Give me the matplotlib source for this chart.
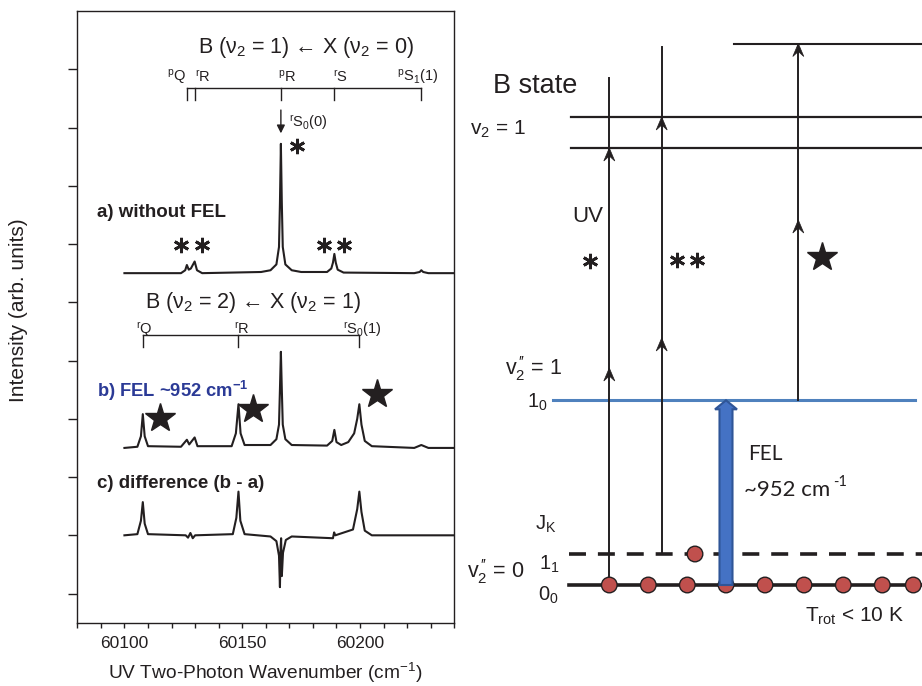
import matplotlib
matplotlib.use("Agg")
import matplotlib.pyplot as plt
from matplotlib.patches import Polygon, Circle, FancyArrow

plt.rcParams["font.family"] = ["Liberation Sans", "DejaVu Sans"]
plt.rcParams["mathtext.fontset"] = "custom"
plt.rcParams["mathtext.rm"] = "Liberation Sans"
plt.rcParams["mathtext.it"] = "Liberation Sans:italic"
plt.rcParams["mathtext.bf"] = "Liberation Sans:bold"

INK = "#231f20"
BLUE_TXT = "#2b3a96"
BLUE_LINE = "#4f81bd"
FEL_FILL = "#4472c4"
FEL_EDGE = "#2f5597"
RED_DOT = "#c0504d"

# ---- spectra (wavenumber, intensity above own baseline) ----
a_x = [60100, 60124, 60125.8, 60126.5, 60127.3, 60128.2, 60129.8, 60130.8, 60133,
       60158, 60162, 60164.5, 60165.6, 60166.0, 60166.4, 60166.8, 60167.2, 60168.3,
       60171, 60175, 60186, 60187.8, 60188.5, 60189.1, 60189.7, 60190.5, 60193,
       60223, 60225.3, 60226, 60226.8, 60229, 60240]
a_y = [0.0, 0.0, 0.05, 0.14, 0.06, 0.08, 0.20, 0.05, 0.0,
       0.02, 0.05, 0.15, 0.45, 1.2, 2.22, 1.2, 0.45, 0.15,
       0.05, 0.02, 0.02, 0.08, 0.18, 0.33, 0.18, 0.06, 0.01,
       0.0, 0.02, 0.05, 0.02, 0.0, 0.0]

b_x = [60100, 60105.5, 60107.0, 60107.8, 60108.6, 60110, 60124, 60126.5, 60127.5,
       60129.8, 60131, 60145.5, 60147.3, 60148.4, 60149.3, 60151, 60162, 60164.5,
       60165.6, 60166.0, 60166.4, 60166.8, 60167.2, 60168.3, 60171, 60186, 60188.2,
       60189.1, 60190, 60192, 60195, 60197.5, 60198.8, 60199.7, 60200.6, 60202,
       60205, 60223, 60226, 60229, 60240]
b_y = [0.0, 0.02, 0.2, 0.58, 0.2, 0.03, 0.02, 0.14, 0.06,
       0.18, 0.03, 0.03, 0.25, 0.75, 0.25, 0.05, 0.05, 0.15,
       0.4, 1.0, 1.65, 1.0, 0.4, 0.15, 0.05, 0.04, 0.12,
       0.31, 0.1, 0.05, 0.1, 0.25, 0.5, 0.75, 0.4, 0.12,
       0.03, 0.0, 0.05, 0.0, 0.0]

c_x = [60100, 60105.5, 60107.0, 60107.8, 60108.6, 60110, 60126, 60127, 60128,
       60129, 60130, 60146, 60147.5, 60148.4, 60149.2, 60151, 60162, 60164.5,
       60165.6, 60166.0, 60166.3, 60166.5, 60166.8, 60167.3, 60168.5, 60171,
       60188.5, 60189, 60189.5, 60197, 60198.8, 60199.7, 60200.6, 60202, 60205, 60240]
c_y = [0.0, 0.02, 0.25, 0.57, 0.2, 0.02, 0.0, -0.04, 0.04,
       -0.05, 0.0, 0.02, 0.3, 0.75, 0.25, 0.02, -0.02, -0.1,
       -0.35, -0.89, -0.2, -0.05, -0.7, -0.3, -0.08, -0.02,
       -0.05, 0.05, 0.0, 0.1, 0.45, 0.75, 0.4, 0.08, 0.0, 0.0]

BASELINES = {"a": 5.5, "b": 2.5, "c": 1.0}

# assignment combs (wavenumbers)
comb1_x = [60126.5, 60129.8, 60166.4, 60189.1, 60226.0]
comb1_lab = [r"$^{\rm p}$Q", r"$^{\rm r}$R", r"$^{\rm p}$R", r"$^{\rm r}$S", r"$^{\rm p}$S$_1$(1)"]
comb2_x = [60107.8, 60148.4, 60199.7]
comb2_lab = [r"$^{\rm r}$Q", r"$^{\rm r}$R", r"$^{\rm r}$S$_0$(1)"]

fig = plt.figure(figsize=(9.22, 6.86), dpi=100)
W, H = 922, 686
ax = fig.add_axes([77.3 / W, (H - 622.7) / H, (454.3 - 77.3) / W, (622.7 - 11) / H])
ov = fig.add_axes([0, 0, 1, 1], zorder=5)
ov.set_xlim(0, W)
ov.set_ylim(H, 0)
ov.axis("off")
ov.patch.set_alpha(0)

for xs, ys, key in [(a_x, a_y, "a"), (b_x, b_y, "b"), (c_x, c_y, "c")]:
    ax.plot(xs, [v + BASELINES[key] for v in ys], color=INK, lw=1.5)

ax.set_xlim(60080, 60240)
ax.set_ylim(-0.5, 10)
ax.set_xticks([60100, 60150, 60200])
ax.set_xticks(range(60080, 60241, 10), minor=True)
ax.set_yticks(range(10))
ax.set_yticklabels([])
ax.tick_params(axis="x", which="both", direction="out", length=3.4, width=1.0,
               labelsize=12.5, colors=INK, pad=6)
ax.tick_params(axis="y", direction="out", length=6.5, width=1.0, colors=INK)
for s in ax.spines.values():
    s.set_linewidth(1.0)
    s.set_color(INK)

# combs
def comb(xs, y_line, y_tick):
    ax.plot([xs[0], xs[-1]], [y_line, y_line], color=INK, lw=1.0)
    for x in xs:
        ax.plot([x, x], [y_line, y_tick], color=INK, lw=1.0)

comb(comb1_x, 8.68, 8.48)
comb(comb2_x, 4.44, 4.24)
ax.annotate("", xy=(60166.4, 7.90), xytext=(60166.4, 8.30),
            arrowprops=dict(arrowstyle="-|>", color=INK, lw=1.0,
                            mutation_scale=12, shrinkA=0, shrinkB=0))

# asterisks and stars on spectra
ax.plot([60173.3], [7.68], marker=(6, 2, 0), ms=11, mew=2.0, color=INK, ls="none")
ax.plot([60123.8, 60133.0, 60184.5, 60193.4], [5.98] * 4, marker=(6, 2, 0), ms=11,
        mew=2.0, color=INK, ls="none")
ax.plot([60115.1, 60154.5, 60207.2], [3.02, 3.17, 3.43], marker="*", ms=22,
        color=INK, mec=INK, ls="none")

# left-panel texts (pixel coordinates)
ov.text(198.3, 53.3, r"B (ν$_2$ = 1) ← X (ν$_2$ = 0)", fontsize=15.5, va="baseline", color=INK)
ov.text(145, 308.3, r"B (ν$_2$ = 2) ← X (ν$_2$ = 1)", fontsize=15.5, va="baseline", color=INK)
for xl, lab in zip([167.3, 195, 278.3, 332.7, 397.3], comb1_lab):
    ov.text(xl, 81.7, lab, fontsize=10.5, va="baseline", color=INK)
for xl, lab in zip([136, 234, 343.3], comb2_lab):
    ov.text(xl, 334, lab, fontsize=10.5, va="baseline", color=INK)
ov.text(289.3, 126.7, r"$^{\rm r}$S$_0$(0)", fontsize=10.5, va="baseline", color=INK)
ov.text(96.7, 216.7, "a) without FEL", fontsize=13.5, fontweight="bold", va="baseline", color=INK)
ov.text(96.7, 396.7, r"b) FEL ~952 cm$^{\mathbf{-1}}$", fontsize=13.2, fontweight="bold",
        va="baseline", color=BLUE_TXT)
ov.text(96.7, 488, "c) difference (b - a)", fontsize=13.5, fontweight="bold", va="baseline", color=INK)
ov.text(265, 679, r"UV Two-Photon Wavenumber (cm$^{-1}$)", fontsize=13.8, ha="center",
        va="baseline", color=INK)
ov.text(19, 310, "Intensity (arb. units)", fontsize=15, rotation=90, ha="center",
        va="center", color=INK)

# ---- energy level diagram (pixel coordinates) ----
X_RIGHT = 922
ov.plot([734, X_RIGHT], [44, 44], color=INK, lw=1.5)
for yl in [117, 148]:
    ov.plot([570.7, X_RIGHT], [yl, yl], color=INK, lw=1.6)
ov.plot([552.7, 915], [400.3, 400.3], color=BLUE_LINE, lw=2.2)
ov.plot([569.3, X_RIGHT], [554, 554], color=INK, lw=2.6, dashes=(4.7, 3.3))
ov.plot([569.3, X_RIGHT], [585, 585], color=INK, lw=2.6)

uv_x = [609.3, 661.7, 798.3]
uv_top = [78.3, 46.7, 43.5]
uv_bot = [585, 554, 400.3]
uv_heads = [[148, 368], [117, 338], [43.5, 220]]
for x, t, b, hs in zip(uv_x, uv_top, uv_bot, uv_heads):
    ov.plot([x, x], [t, b], color=INK, lw=1.4)
    for hy in hs:
        ov.add_patch(Polygon([(x, hy), (x - 5.5, hy + 13), (x, hy + 8), (x + 5.5, hy + 13)],
                             closed=True, fc=INK, ec=INK, lw=0.5, zorder=4))

ov.add_patch(FancyArrow(726, 585, 0, -184.7, width=13, head_width=22, head_length=9,
                        length_includes_head=True, fc=FEL_FILL, ec=FEL_EDGE, lw=1.5,
                        zorder=4))

dots_x = [609.3, 648.3, 687.3, 726, 765, 804, 843.3, 882.3, 913.3]
for dx in dots_x:
    ov.add_patch(Circle((dx, 585), 7.8, fc=RED_DOT, ec=INK, lw=1.0, zorder=3))
ov.add_patch(Circle((695, 554), 7.8, fc=RED_DOT, ec=INK, lw=1.0, zorder=3))

ov.text(493, 93.3, "B state", fontsize=19.5, va="baseline", color=INK)
ov.text(470, 135, r"v$_2$ = 1", fontsize=15, va="baseline", color=INK)
ov.text(572.7, 221.7, "UV", fontsize=16, va="baseline", color=INK)
ov.plot([590], [260.7], marker=(6, 2, 0), ms=11, mew=2.0, color=INK, ls="none")
ov.plot([677.3, 696.7], [260, 260], marker=(6, 2, 0), ms=11, mew=2.0, color=INK, ls="none")
ov.plot([822.3], [257.3], marker="*", ms=22, color=INK, ls="none")
ov.text(505, 375, r"v$_2^{\,\prime\prime}$ = 1", fontsize=15.5, va="baseline", color=INK)
ov.text(526.7, 408, r"1$_0$", fontsize=14.5, va="baseline", color=INK)
ov.text(535, 530, r"J$_{\rm K}$", fontsize=14.5, va="baseline", color=INK)
ov.text(467, 578, r"v$_2^{\,\prime\prime}$ = 0", fontsize=15.5, va="baseline", color=INK)
ov.text(539, 570, r"1$_1$", fontsize=14.5, va="baseline", color=INK)
ov.text(538, 601, r"0$_0$", fontsize=14.5, va="baseline", color=INK)
ov.text(748.3, 460, "FEL", fontsize=15, va="baseline", color=INK, family=["Lato", "DejaVu Sans"])
fel_txt = ov.text(744.3, 495.7, "~952 cm", fontsize=16, va="baseline", color=INK,
                  family=["Lato", "DejaVu Sans"])
ov.annotate("-1", xy=(1.0, 0.55), xycoords=fel_txt, xytext=(1.5, 0),
            textcoords="offset points", ha="left", va="bottom", fontsize=10.5,
            color=INK, family=["Lato", "DejaVu Sans"])
ov.text(805, 621.7, r"T$_{\rm rot}$ < 10 K", fontsize=15, va="baseline", color=INK)

fig.savefig("out.png", dpi=100)
